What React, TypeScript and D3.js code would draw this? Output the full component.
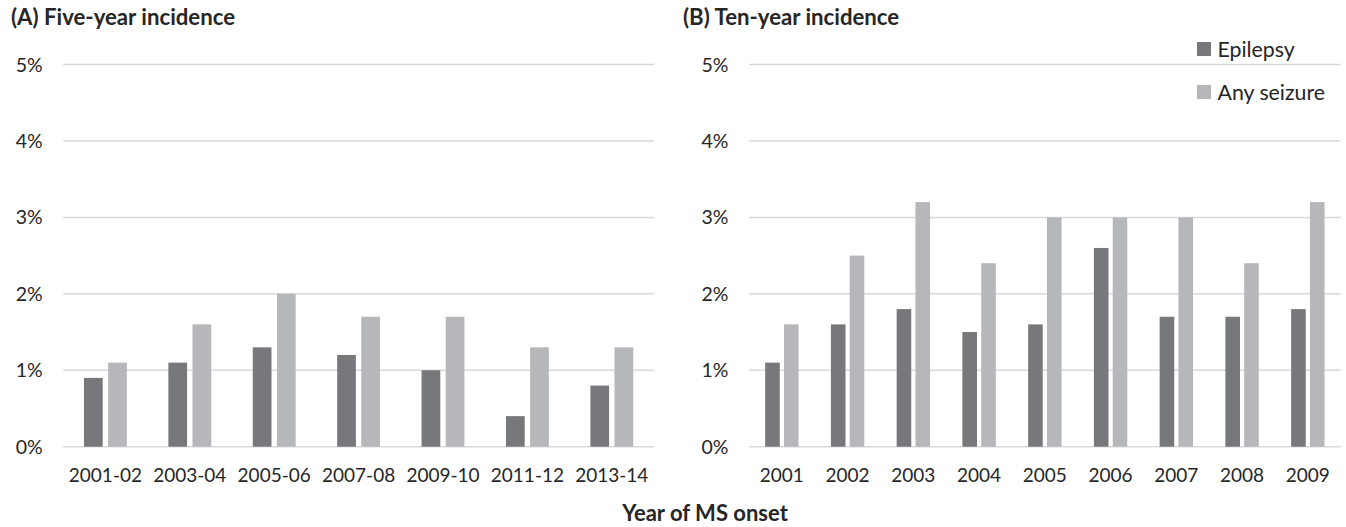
import React from "react";
import * as d3 from "d3";

const catsA = ["2001-02", "2003-04", "2005-06", "2007-08", "2009-10", "2011-12", "2013-14"];
const epilepsyA = [0.9, 1.1, 1.3, 1.2, 1.0, 0.4, 0.8];
const seizureA = [1.1, 1.6, 2.0, 1.7, 1.7, 1.3, 1.3];

const catsB = ["2001", "2002", "2003", "2004", "2005", "2006", "2007", "2008", "2009"];
const epilepsyB = [1.1, 1.6, 1.8, 1.5, 1.6, 2.6, 1.7, 1.7, 1.8];
const seizureB = [1.6, 2.5, 3.2, 2.4, 3.0, 3.0, 3.0, 2.4, 3.2];

const yTicks = [0, 1, 2, 3, 4, 5];
const seriesNames = ["Epilepsy", "Any seizure"];

const W = 1346;
const H = 527;
const DARK = "#77787b";
const LIGHT = "#b6b7ba";
const GRID = "#d9d9d9";
const TEXT = "#262626";
const FONT = "Lato, 'Open Sans', sans-serif";

const y = d3.scaleLinear().domain([0, 5]).range([446.7, 64.5]);

function Panel({ title, cats, a, b, x0, x1, titleX }: any) {
  const x = d3.scaleBand<string>().domain(cats).range([x0, x1]).padding(0);
  const bw = x.bandwidth();
  const barW = bw * 0.222;
  const off = bw * 0.143;
  return (
    <g>
      <text x={titleX} y={25} fontFamily={FONT} fontWeight={700} fontSize={22.2} fill={TEXT}>
        {title}
      </text>
      {yTicks.map((t) => (
        <g key={t}>
          <line x1={x0} x2={x1} y1={y(t)} y2={y(t)} stroke={GRID} strokeWidth={1.5} />
          <text
            x={x0 - 20.5}
            y={y(t)}
            dy="0.36em"
            textAnchor="end"
            fontFamily={FONT}
            fontSize={19.5}
            fill={TEXT}
          >
            {t + "%"}
          </text>
        </g>
      ))}
      {cats.map((c: string, i: number) => {
        const cx = (x(c) as number) + bw / 2;
        return (
          <g key={c}>
            <rect x={cx - off - barW / 2} y={y(a[i])} width={barW} height={y(0) - y(a[i])} fill={DARK} />
            <rect x={cx + off - barW / 2} y={y(b[i])} width={barW} height={y(0) - y(b[i])} fill={LIGHT} />
            <text x={cx} y={481.5} textAnchor="middle" fontFamily={FONT} fontSize={19} fill={TEXT}>
              {c}
            </text>
          </g>
        );
      })}
    </g>
  );
}

export default function App() {
  return (
    <svg
      width={W}
      height={H}
      style={{ position: "absolute", left: 0, top: 0, background: "#fff" }}
    >
      <rect width={W} height={H} fill="#fff" />
      <Panel title="(A) Five-year incidence" cats={catsA} a={epilepsyA} b={seizureA} x0={63.2} x1={654} titleX={11} />
      <Panel title="(B) Ten-year incidence" cats={catsB} a={epilepsyB} b={seizureB} x0={749} x1={1340.7} titleX={683} />
      {seriesNames.map((n, i) => (
        <g key={n}>
          <rect x={1197} y={42 + i * 43} width={14} height={14} fill={i === 0 ? DARK : LIGHT} />
          <text x={1217.5} y={56.5 + i * 43} fontFamily={FONT} fontSize={21.3} fill={TEXT}>
            {n}
          </text>
        </g>
      ))}
      <text x={705} y={521} textAnchor="middle" fontFamily={FONT} fontWeight={700} fontSize={22} fill={TEXT}>
        Year of MS onset
      </text>
    </svg>
  );
}
